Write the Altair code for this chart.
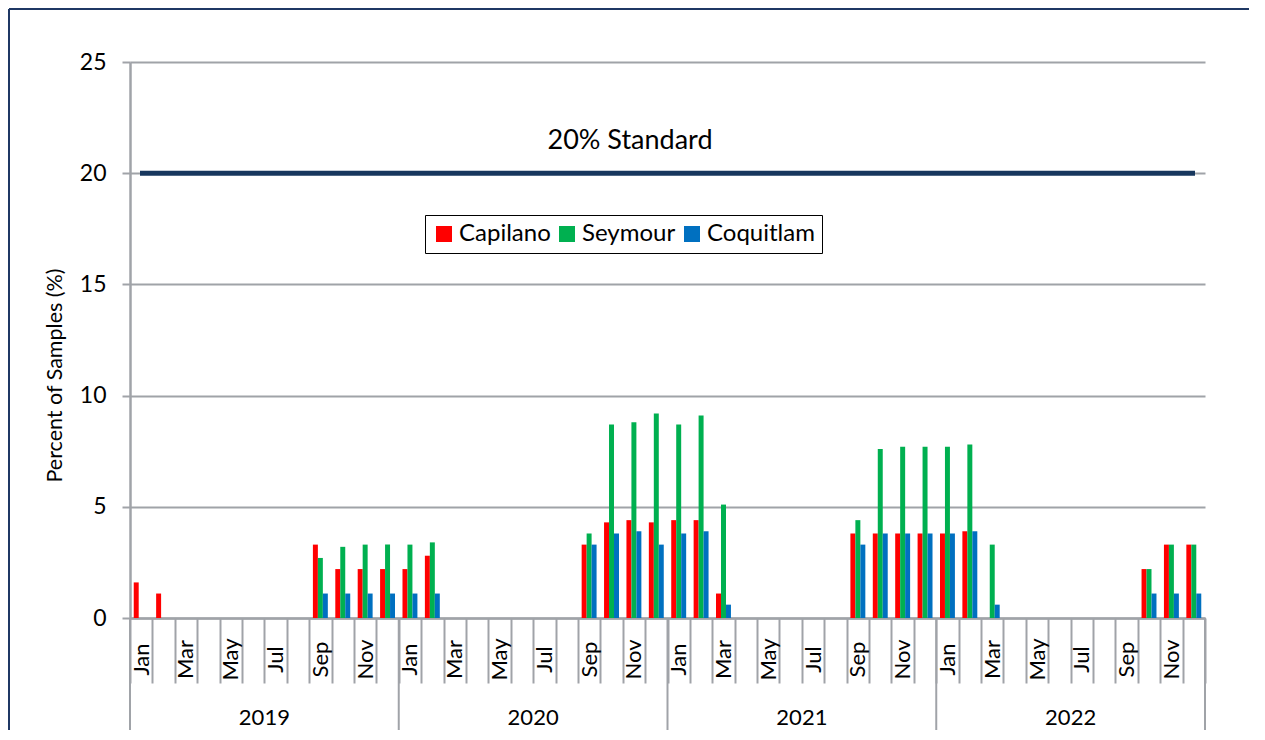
import altair as alt
import pandas as pd

YEARS = ["2019", "2020", "2021", "2022"]
MONTHS = ["Jan", "Feb", "Mar", "Apr", "May", "Jun", "Jul", "Aug", "Sep", "Oct", "Nov", "Dec"]
SERIES = ["Capilano", "Seymour", "Coquitlam"]
COLORS = ["#FF0000", "#00B050", "#0070C0"]

capilano = [1.6, 1.1, 0, 0, 0, 0, 0, 0, 3.3, 2.2, 2.2, 2.2,
            2.2, 2.8, 0, 0, 0, 0, 0, 0, 3.3, 4.3, 4.4, 4.3,
            4.4, 4.4, 1.1, 0, 0, 0, 0, 0, 3.8, 3.8, 3.8, 3.8,
            3.8, 3.9, 0, 0, 0, 0, 0, 0, 0, 2.2, 3.3, 3.3]
seymour = [0, 0, 0, 0, 0, 0, 0, 0, 2.7, 3.2, 3.3, 3.3,
           3.3, 3.4, 0, 0, 0, 0, 0, 0, 3.8, 8.7, 8.8, 9.2,
           8.7, 9.1, 5.1, 0, 0, 0, 0, 0, 4.4, 7.6, 7.7, 7.7,
           7.7, 7.8, 3.3, 0, 0, 0, 0, 0, 0, 2.2, 3.3, 3.3]
coquitlam = [0, 0, 0, 0, 0, 0, 0, 0, 1.1, 1.1, 1.1, 1.1,
             1.1, 1.1, 0, 0, 0, 0, 0, 0, 3.3, 3.8, 3.9, 3.3,
             3.8, 3.9, 0.6, 0, 0, 0, 0, 0, 3.3, 3.8, 3.8, 3.8,
             3.8, 3.9, 0.6, 0, 0, 0, 0, 0, 0, 1.1, 1.1, 1.1]
STANDARD = 20

FONT = "Lato"
GRAY = "#A0A3A8"
W, H = 1075, 556

rows = []
for name, vals in zip(SERIES, [capilano, seymour, coquitlam]):
    for i, v in enumerate(vals):
        rows.append({"idx": i, "series": name, "value": v})
df = pd.DataFrame(rows)

idx_domain = list(range(len(YEARS) * 12))
xscale = alt.Scale(domain=idx_domain, paddingInner=0, paddingOuter=0)
month_js = "[" + ",".join("'%s'" % m for m in MONTHS) + "]"
label_expr = "datum.value % 2 == 0 ? " + month_js + "[datum.value % 12] : ''"

bars = alt.Chart(df).mark_bar().encode(
    x=alt.X("idx:O", scale=xscale, title=None,
            axis=alt.Axis(labelExpr=label_expr, labelAngle=270, labelAlign="center",
                          labelBaseline="middle", labelFontSize=22, labelFont=FONT,
                          labelColor="#000000", labelOverlap=False, labelFlush=False,
                          labelPadding=-24, tickSize=65, tickBand="extent",
                          tickColor=GRAY, tickWidth=2, domainColor=GRAY, domainWidth=2.5)),
    xOffset=alt.XOffset("series:N", sort=SERIES,
                        scale=alt.Scale(paddingInner=0, paddingOuter=0.75)),
    y=alt.Y("value:Q", scale=alt.Scale(domain=[0, 25], nice=False),
            axis=alt.Axis(values=[0, 5, 10, 15, 20, 25], title="Percent of Samples (%)",
                          titleFont=FONT, titleFontSize=21.5, titleFontWeight="normal",
                          titleColor="#000000", titleX=-75, titleY=313, titleAngle=270,
                          titleAlign="center", titleBaseline="middle",
                          labelFont=FONT, labelFontSize=23, labelColor="#000000",
                          labelPadding=16, tickSize=8, tickColor=GRAY, tickWidth=2,
                          domainColor=GRAY, domainWidth=2.5,
                          grid=True, gridColor=GRAY, gridWidth=2)),
    color=alt.Color("series:N", sort=SERIES,
                    scale=alt.Scale(domain=SERIES, range=COLORS),
                    legend=alt.Legend(title=None, orient="none", legendX=295, legendY=153,
                                      direction="horizontal", symbolType="square",
                                      symbolSize=256, symbolStrokeWidth=0,
                                      labelFont=FONT, labelFontSize=24, labelColor="#000000",
                                      strokeColor="#000000", fillColor="#FFFFFF",
                                      padding=7, columnPadding=4, labelOffset=3)),
)

std_df = pd.DataFrame({"y": [STANDARD], "label": ["%d%% Standard" % STANDARD]})
std_line = alt.Chart(std_df).mark_rule(color="#17375E", strokeWidth=5).encode(
    y="y:Q", x=alt.value(10), x2=alt.value(W - 10))
std_text = alt.Chart(std_df).mark_text(font=FONT, fontSize=27, color="#000000",
                                       baseline="middle", align="center").encode(
    text="label:N", x=alt.value(500), y=alt.value(79))

yr_df = pd.DataFrame({"year": YEARS, "mid": [5 + 12 * k for k in range(len(YEARS))],
                      "start": [12 * k for k in range(len(YEARS))]})
year_text = alt.Chart(yr_df).mark_text(font=FONT, fontSize=22, color="#000000",
                                       baseline="middle", align="center").encode(
    x=alt.X("mid:O", bandPosition=1, scale=xscale), text="year:N", y=alt.value(656))
year_sep = alt.Chart(yr_df).mark_rule(color=GRAY, strokeWidth=2).encode(
    x=alt.X("start:O", bandPosition=0, scale=xscale), y=alt.value(H), y2=alt.value(H + 130))
end_df = pd.DataFrame({"end": [len(idx_domain) - 1]})
year_end = alt.Chart(end_df).mark_rule(color=GRAY, strokeWidth=2).encode(
    x=alt.X("end:O", bandPosition=1, scale=xscale), y=alt.value(H), y2=alt.value(H + 130))

frame_top = alt.Chart(std_df).mark_rule(color="#1F3864", strokeWidth=2).encode(
    x=alt.value(-121), x2=alt.value(1126), y=alt.value(-53))
frame_left = alt.Chart(std_df).mark_rule(color="#1F3864", strokeWidth=2).encode(
    x=alt.value(-121), y=alt.value(-53), y2=alt.value(1000))

chart = alt.layer(bars, std_line, std_text, year_sep, year_end, year_text,
                  frame_top, frame_left).properties(
    width=W, height=H,
    autosize=alt.AutoSizeParams(type="none"),
    padding={"left": 122, "top": 54, "right": 44, "bottom": 112},
    background="#FFFFFF",
).configure_view(stroke=None)

chart.save("out.html", embed_options={"renderer": "svg", "actions": False})
